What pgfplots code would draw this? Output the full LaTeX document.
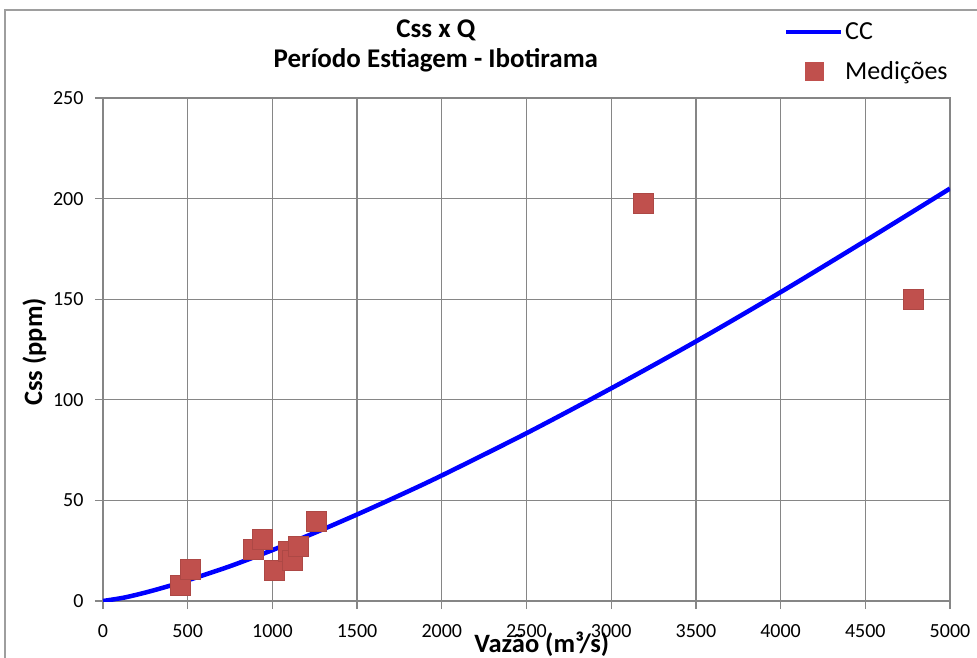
\documentclass[border=0pt]{standalone}
\usepackage{fontspec}
\setmainfont{Carlito}
\usepackage{pgfplots}
\pgfplotsset{compat=1.18}

\definecolor{ccblue}{RGB}{0,0,255}
\definecolor{medred}{RGB}{192,80,77}
\definecolor{gridgray}{RGB}{134,134,134}

\begin{document}
\begin{tikzpicture}
\useasboundingbox (-103pt,-56pt) rectangle (874pt,601pt);
\draw[gridgray!80, line width=1.2pt] (-98pt,-120pt) rectangle (880pt,591pt);
\begin{axis}[
  scale only axis,
  width=847pt, height=503pt,
  xmin=0, xmax=5000,
  ymin=0, ymax=250,
  xtick={0,500,...,5000},
  ytick={0,50,...,250},
  /pgf/number format/assume math mode=true,
  /pgf/number format/set thousands separator={},
  tick label style={font=\fontsize{20}{24}\selectfont},
  xticklabel style={yshift=-12pt},
  yticklabel style={xshift=-8pt},
  tick align=outside,
  tick pos=left,
  major tick length=8pt,
  tick style={gridgray, line width=1.3pt},
  axis line style={gridgray, line width=1.3pt},
  grid=major,
  major grid style={gridgray, line width=1.3pt},
  title={Css x Q\\Período Estiagem - Ibotirama},
  title style={font=\bfseries\fontsize{27}{30}\selectfont, align=center,
    at={(axis description cs:0.393,1.0497)}, anchor=base},
  xlabel={Vazão (m³/s)},
  xlabel style={font=\bfseries\fontsize{26.5}{30}\selectfont,
    at={(axis description cs:0.518,-0.103)}, anchor=base},
  ylabel={Css (ppm)},
  ylabel style={font=\bfseries\fontsize{26.5}{30}\selectfont,
    at={(axis description cs:-0.072,0.495)}, anchor=base, rotate=0},
  legend style={draw=none, fill=none, at={(axis description cs:0.8005,1.157)},
    anchor=north west, font=\fontsize{26}{30}\selectfont,
    nodes={inner sep=1.5pt}, row sep=17pt},
  legend cell align=left,
  clip mode=individual,
]
\addplot[ccblue, line width=4.5pt, smooth,
  legend image code/.code={\draw[ccblue, line width=4.5pt] (-55pt,0pt) -- (0pt,0pt);}]
  table[row sep=\\]{
  X Y\\
  0 0\\
  125 1.7\\
  250 4.2\\
  375 7.1\\
  500 10.3\\
  750 17.3\\
  1000 25.3\\
  1250 33.9\\
  1500 43.0\\
  1750 52.5\\
  2000 62.4\\
  2500 83.4\\
  3000 105.7\\
  3500 129.0\\
  4000 153.5\\
  4500 179.0\\
  5000 205.0\\
};
\addlegendentry{CC}

\addplot[only marks, mark=square*, mark size=10pt,
  mark options={fill=medred, draw=medred!90!black, line width=0.6pt},
  legend image code/.code={\fill[medred] (-36pt,-9pt) rectangle (-18pt,9pt); \path (0pt,0pt);}]
  table[row sep=\\]{
  X Y\\
  456 7.6\\
  514 15.9\\
  887 25.7\\
  943 30.7\\
  1009 15.4\\
  1092 24.5\\
  1120 20.4\\
  1155 27.3\\
  1261 39.8\\
  3190 197.7\\
  4786 149.8\\
};
\addlegendentry{Medições}
\end{axis}
\end{tikzpicture}
\end{document}
